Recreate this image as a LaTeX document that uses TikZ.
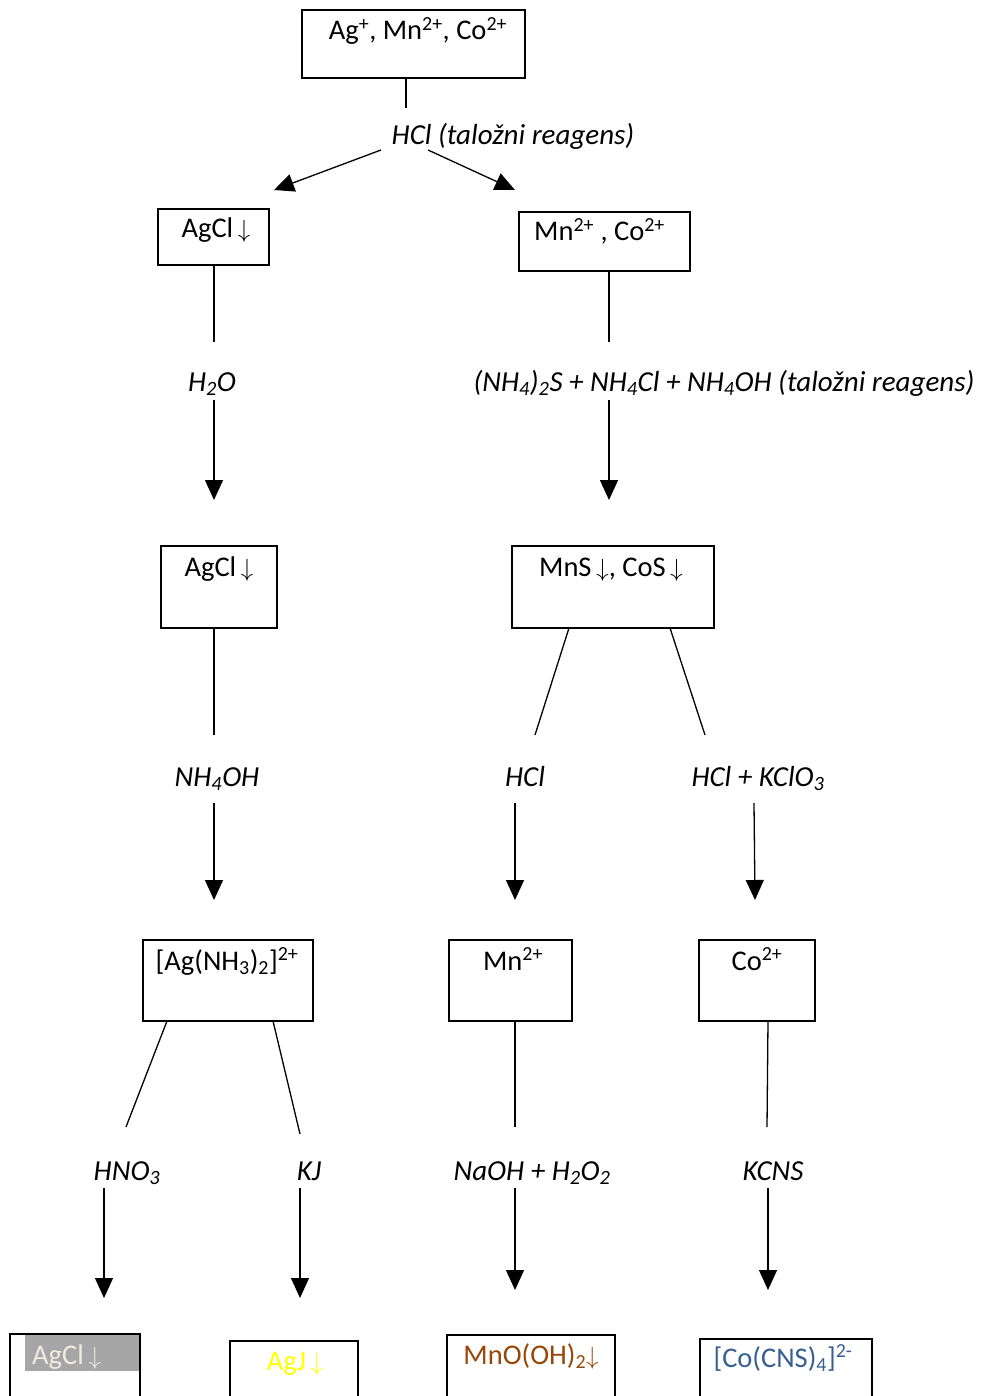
\documentclass[tikz,border=0pt]{standalone}
\usepackage{fontspec}
\setmainfont{Carlito}
\usetikzlibrary{arrows.meta,calc}
\newcommand{\fs}{\fontsize{28.5}{33}\selectfont}
\newcommand{\fsi}{\fontsize{29}{33}\selectfont}
\newcommand{\lo}[1]{\textsubscript{#1}}
\newcommand{\hi}[1]{\textsuperscript{#1}}
\definecolor{hlgray}{HTML}{A6A6A6}
\definecolor{agcltext}{HTML}{EEECE1}
\definecolor{agjyellow}{HTML}{FFFF00}
\definecolor{mnbrown}{HTML}{984806}
\definecolor{coblue}{HTML}{376092}
\begin{document}
\begin{tikzpicture}[x=1pt,y=-1pt,
  box/.style={draw, line width=1.5pt, inner sep=0pt, outer sep=0pt, anchor=north west},
  txt/.style={anchor=base, inner sep=0pt, font=\fs},
  lbl/.style={txt, font=\fsi\itshape},
  conn/.style={line width=1.3pt},
  arr/.style={conn, -{Triangle[length=20pt,width=18pt]}}]
\useasboundingbox (0,0) rectangle (982,1396);
\clip (0,0) rectangle (982,1396);
% ---- boxes
\node[box, minimum width=223, minimum height=68] (top) at (302,10) {};
\node[box, minimum width=111, minimum height=56] (agcl1) at (158,209) {};
\node[box, minimum width=171, minimum height=59] (mnco) at (519,212) {};
\node[box, minimum width=116, minimum height=82] (agcl2) at (161,546) {};
\node[box, minimum width=202, minimum height=82] (mns) at (512,546) {};
\node[box, minimum width=170, minimum height=81] (agnh) at (143,940) {};
\node[box, minimum width=123, minimum height=81] (mn) at (449,940) {};
\node[box, minimum width=116, minimum height=81] (co) at (699,940) {};
\node[fill=hlgray, inner sep=0pt, outer sep=0pt, anchor=north west, minimum width=115, minimum height=36] (hl) at (25,1335) {};
\node[box, minimum width=130, minimum height=90] (agcl3) at (10,1334) {};
\node[box, minimum width=128, minimum height=90] (agj) at (230,1341) {};
\node[box, minimum width=168, minimum height=90] (mno) at (447,1335) {};
\node[box, minimum width=172, minimum height=90] (cns) at (700,1339) {};
% ---- box texts
\node[txt] (ttop) at (418,40) {Ag\hi{+}, Mn\hi{2+}, Co\hi{2+}};
\node[txt] (tagcl1) at (216,238) {AgCl\,$\downarrow$};
\node[txt, anchor=base west] (tmnco) at (534,241) {Mn\hi{2+} , Co\hi{2+}};
\node[txt] (tagcl2) at (219,576) {AgCl\,$\downarrow$};
\node[txt] (tmns) at (611,576) {MnS\,$\downarrow$, CoS\,$\downarrow$};
\node[txt] (tagnh) at (227,970) {[Ag(NH\lo{3})\lo{2}]\hi{2+}};
\node[txt] (tmn) at (513,970) {Mn\hi{2+}};
\node[txt] (tco) at (757,970) {Co\hi{2+}};
\node[txt, anchor=base west, text=agcltext] (tagcl3) at (32,1364) {AgCl\,$\downarrow$};
\node[txt, text=agjyellow] (tagj) at (295,1370) {AgJ\,$\downarrow$};
\node[txt, text=mnbrown] (tmno) at (531,1364) {MnO(OH)\lo{2}$\downarrow$};
\node[txt, text=coblue] (tcns) at (783,1367) {[Co(CNS)\lo{4}]\hi{2-}};
% ---- reagent labels
\node[lbl] (l1) at (513,145) {HCl (taložni reagens)};
\node[lbl] (l2) at (212,391) {H\lo{2}O};
\node[lbl] (l3) at (724,391) {(NH\lo{4})\lo{2}S + NH\lo{4}Cl + NH\lo{4}OH (taložni reagens)};
\node[lbl] (l4) at (217,786) {NH\lo{4}OH};
\node[lbl] (l5) at (525,786) {HCl};
\node[lbl] (l6) at (758,786) {HCl + KClO\lo{3}};
\node[lbl] (l7) at (127,1180) {HNO\lo{3}};
\node[lbl] (l8) at (309,1180) {KJ};
\node[lbl] (l9) at (532,1180) {NaOH + H\lo{2}O\lo{2}};
\node[lbl] (l10) at (773,1180) {KCNS};
% ---- connector end points
\coordinate (c1) at (406,108);
\coordinate (a1s) at (381,150); \coordinate (a1e) at (274,190);
\coordinate (a2s) at (428,150); \coordinate (a2e) at (515,190);
\coordinate (c2) at (214,342); \coordinate (a3s) at (214,400); \coordinate (a3e) at (214,500);
\coordinate (c3) at (609,342); \coordinate (a4s) at (609,400); \coordinate (a4e) at (609,500);
\coordinate (c4) at (214,735); \coordinate (a5s) at (214,803); \coordinate (a5e) at (214,900);
\coordinate (c5) at (535,735); \coordinate (a6s) at (515,803); \coordinate (a6e) at (515,900);
\coordinate (c6) at (705,735); \coordinate (a7s) at (754,803); \coordinate (a7e) at (755,900);
\coordinate (c7) at (126,1127); \coordinate (a8s) at (104,1188); \coordinate (a8e) at (104,1298);
\coordinate (c8) at (300,1134); \coordinate (a9s) at (300,1188); \coordinate (a9e) at (300,1298);
\coordinate (c9) at (515,1127); \coordinate (a10s) at (515,1188); \coordinate (a10e) at (515,1290);
\coordinate (c10) at (767,1127); \coordinate (a11s) at (768,1188); \coordinate (a11e) at (768,1290);
% ---- connectors
\draw[conn] (c1 |- top.south) -- (c1);
\draw[arr] (a1s) -- (a1e);
\draw[arr] (a2s) -- (a2e);
\draw[conn] (c2 |- agcl1.south) -- (c2);
\draw[arr] (a3s) -- (a3e);
\draw[conn] (c3 |- mnco.south) -- (c3);
\draw[arr] (a4s) -- (a4e);
\draw[conn] (c4 |- agcl2.south) -- (c4);
\draw[arr] (a5s) -- (a5e);
\draw[conn] ($(mns.south west)+(57,0)$) -- (c5);
\draw[arr] (a6s) -- (a6e);
\draw[conn] ($(mns.south west)+(158,0)$) -- (c6);
\draw[arr] (a7s) -- (a7e);
\draw[conn] ($(agnh.south west)+(24,0)$) -- (c7);
\draw[arr] (a8s) -- (a8e);
\draw[conn] ($(agnh.south west)+(130,0)$) -- (c8);
\draw[arr] (a9s) -- (a9e);
\draw[conn] (c9 |- mn.south) -- (c9);
\draw[arr] (a10s) -- (a10e);
\draw[conn] ($(co.south west)+(69,0)$) -- (c10);
\draw[arr] (a11s) -- (a11e);
\end{tikzpicture}
\end{document}
